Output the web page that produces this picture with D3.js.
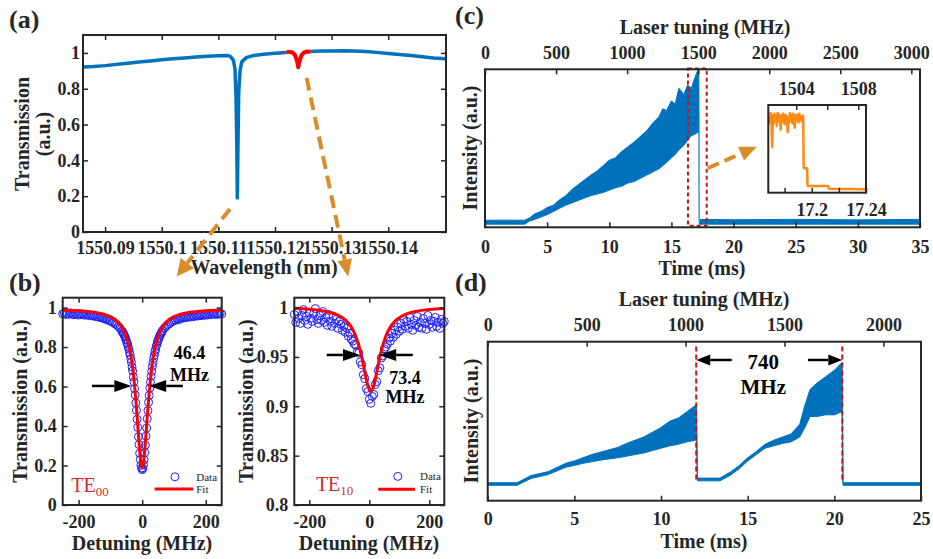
<!DOCTYPE html>
<html>
<head>
<meta charset="utf-8">
<script src="https://cdn.jsdelivr.net/npm/d3@7"></script>
<style>
  body { margin: 0; background: #fff; }
</style>
</head>
<body>
<script>
var width = 933, height = 559;
var ink = "#262626", matBlue = "#0072bd", fitRed = "#ff0000", arrowOrange = "#d98c2b";
var serif = '"Liberation Serif", "Times New Roman", serif';

// (a) wide scan, split where the red TE10 dip is drawn
var aWave1 = [1550.0861, 1550.088, 1550.090, 1550.092, 1550.094, 1550.096, 1550.098, 1550.100, 1550.102, 1550.104, 1550.106, 1550.108, 1550.110, 1550.1115,
  1550.11206, 1550.11265, 1550.11295, 1550.11312, 1550.11325, 1550.11335, 1550.11347, 1550.1136, 1550.11383, 1550.11413, 1550.11501, 1550.11617, 1550.118, 1550.120, 1550.1220];
var aTrans1 = [0.921, 0.924, 0.929, 0.936, 0.942, 0.949, 0.955, 0.962, 0.967, 0.972, 0.977, 0.981, 0.984, 0.985,
  0.982, 0.96, 0.91, 0.75, 0.5, 0.19, 0.5, 0.78, 0.9, 0.95, 0.975, 0.985, 0.992, 0.998, 1.002];
var aWaveRed = [1550.1220, 1550.1226, 1550.1231, 1550.1235, 1550.1238, 1550.1240, 1550.1241, 1550.1242, 1550.1244, 1550.1247, 1550.1251, 1550.1256, 1550.1263];
var aTransRed = [1.003, 1.006, 1.002, 0.99, 0.965, 0.94, 0.92, 0.935, 0.962, 0.988, 1.002, 1.008, 1.007];
var aWave2 = [1550.1263, 1550.128, 1550.130, 1550.132, 1550.134, 1550.136, 1550.138, 1550.140, 1550.142, 1550.144, 1550.146, 1550.148, 1550.1502];
var aTrans2 = [1.008, 1.010, 1.011, 1.012, 1.010, 1.008, 1.003, 0.997, 0.991, 0.985, 0.978, 0.972, 0.968];
var aXTicks = [1550.09, 1550.10, 1550.11, 1550.12, 1550.13, 1550.14];
var aYTicks = [0, 0.2, 0.4, 0.6, 0.8, 1];

// (b) TE00 resonance
var b1Detune = d3.range(-250, -69, 5).concat(d3.range(-64, 65, 2), d3.range(70, 251, 5));
var b1Trans = [0.968, 0.972, 0.965, 0.970, 0.966, 0.973, 0.967, 0.964, 0.970, 0.966, 0.962, 0.969, 0.965, 0.967, 0.961, 0.966, 0.963, 0.958, 0.962, 0.957,
  0.960, 0.954, 0.955, 0.950, 0.952, 0.946, 0.946, 0.940, 0.941, 0.934, 0.933, 0.927, 0.924, 0.917, 0.912, 0.904, 0.896,
  0.880, 0.879, 0.869, 0.866, 0.857, 0.852, 0.841, 0.835, 0.822, 0.815, 0.800, 0.790, 0.773, 0.760, 0.740, 0.723, 0.699, 0.679, 0.649, 0.624, 0.589, 0.557, 0.517, 0.480, 0.434, 0.393, 0.346, 0.306, 0.262, 0.231, 0.201, 0.187,
  0.179,
  0.185, 0.204, 0.229, 0.265, 0.303, 0.349, 0.390, 0.437, 0.478, 0.520, 0.555, 0.592, 0.622, 0.652, 0.677, 0.702, 0.721, 0.743, 0.758, 0.776, 0.788, 0.803, 0.813, 0.826, 0.833, 0.844, 0.850, 0.860, 0.864, 0.873, 0.876, 0.884,
  0.897, 0.905, 0.913, 0.918, 0.925, 0.929, 0.934, 0.936, 0.942, 0.939, 0.947, 0.945, 0.950, 0.949, 0.953, 0.951, 0.956, 0.952, 0.958, 0.955,
  0.960, 0.957, 0.962, 0.959, 0.964, 0.961, 0.966, 0.962, 0.968, 0.964, 0.967, 0.970, 0.965, 0.969, 0.966, 0.971, 0.968];
var b1FitX = [-250, -200, -150, -120, -100, -80, -70, -60, -50, -40, -35, -30, -25, -20, -15, -10, -5, -2.5, 0, 2.5, 5, 10, 15, 20, 25, 30, 35, 40, 50, 60, 70, 80, 100, 120, 150, 200, 250];
var b1FitT = [0.988, 0.984, 0.976, 0.966, 0.954, 0.933, 0.915, 0.890, 0.852, 0.792, 0.749, 0.694, 0.622, 0.533, 0.427, 0.316, 0.225, 0.199, 0.190, 0.199, 0.225, 0.316, 0.427, 0.533, 0.622, 0.694, 0.749, 0.792, 0.852, 0.890, 0.915, 0.933, 0.954, 0.966, 0.976, 0.984, 0.988];
var b1YTicks = [0, 0.2, 0.4, 0.6, 0.8, 1];

// (b) TE10 resonance
var b2Detune = d3.range(-250, 251, 5);
var b2Trans = [0.993, 0.985, 0.996, 0.989, 0.984, 0.992, 0.998, 0.987, 0.991, 0.983, 0.995, 0.989, 0.986, 0.994, 0.999, 0.988, 0.984, 0.992, 0.987, 0.996, 0.985,
  0.990, 0.982, 0.993, 0.986, 0.981, 0.991, 0.984, 0.988, 0.979, 0.986,
  0.983, 0.977, 0.981, 0.975, 0.979, 0.971, 0.974, 0.968, 0.966, 0.963,
  0.962, 0.955, 0.954, 0.945, 0.942, 0.932, 0.928, 0.918, 0.915, 0.907,
  0.903,
  0.910, 0.912, 0.922, 0.925, 0.936, 0.939, 0.949, 0.951, 0.958, 0.960,
  0.963, 0.969, 0.966, 0.974, 0.970, 0.977, 0.973, 0.980, 0.976,
  0.984, 0.978, 0.988, 0.981, 0.986, 0.979, 0.990, 0.983, 0.977, 0.987, 0.982, 0.991, 0.980, 0.985, 0.979, 0.989, 0.984, 0.978, 0.992, 0.983, 0.987, 0.980, 0.986, 0.990, 0.981, 0.985, 0.979, 0.988, 0.984, 0.986];
var b2FitX = [-250, -200, -150, -100, -80, -60, -45, -35, -25, -15, -5, 5, 15, 25, 35, 45, 55, 70, 90, 110, 150, 200, 250];
var b2FitT = [0.9993, 0.9983, 0.9964, 0.9916, 0.9875, 0.9802, 0.971, 0.9617, 0.9495, 0.9347, 0.921, 0.915, 0.921, 0.9347, 0.9495, 0.9617, 0.971, 0.9802, 0.9875, 0.9916, 0.9958, 0.9981, 0.9991];
var b2YTicks = [0.8, 0.85, 0.9, 0.95, 1];
var bXTicks = [-200, 0, 200];

// (c) soliton step trace (band = low/high envelope of the fast oscillation)
var cTime = [0, 3.2, 3.6, 4.0, 4.5, 5.0, 5.5, 6.0, 6.5, 7.0, 7.5, 8.0, 8.5, 9.0, 9.5, 10.0, 10.5, 11.0, 11.5, 12.0, 12.5, 13.0, 13.5, 14.0, 14.3, 14.6, 15.0, 15.3, 15.6, 16.0, 16.3, 16.6, 16.9, 17.1, 17.2, 17.25, 20, 25, 30, 35];
var cLow = [0.02, 0.02, 0.04, 0.05, 0.065, 0.08, 0.10, 0.12, 0.14, 0.155, 0.17, 0.185, 0.20, 0.21, 0.22, 0.235, 0.25, 0.26, 0.28, 0.29, 0.31, 0.33, 0.35, 0.37, 0.39, 0.41, 0.44, 0.46, 0.49, 0.52, 0.55, 0.58, 0.59, 0.60, 0.60, 0.02, 0.02, 0.02, 0.02, 0.02];
var cHigh = [0.045, 0.045, 0.06, 0.085, 0.10, 0.125, 0.14, 0.175, 0.20, 0.24, 0.27, 0.30, 0.33, 0.355, 0.39, 0.425, 0.44, 0.48, 0.51, 0.54, 0.575, 0.61, 0.66, 0.70, 0.75, 0.74, 0.80, 0.78, 0.88, 0.84, 0.90, 0.88, 0.95, 0.99, 1.0, 0.05, 0.048, 0.05, 0.047, 0.05];
var cTimeTicks = [0, 5, 10, 15, 20, 25, 30, 35];
var cTuneTicks = [0, 500, 1000, 1500, 2000, 2500, 3000];

// (c) inset: zoom on the step
var insetTune = d3.range(1502.25, 1504.46, 0.05).concat([1504.48, 1504.5, 1504.7, 1504.73, 1504.76, 1506.05, 1506.1, 1508.45]);
var insetInt = [0.86, 0.80, 0.91, 0.84, 0.52, 0.88, 0.79, 0.90, 0.83, 0.87, 0.76, 0.91, 0.82, 0.89, 0.85, 0.72, 0.88, 0.81, 0.90, 0.84,
  0.78, 0.89, 0.83, 0.87, 0.69, 0.86, 0.80, 0.91, 0.84, 0.88, 0.79, 0.90, 0.85, 0.74, 0.88, 0.82, 0.89, 0.86, 0.80, 0.90, 0.84, 0.87, 0.81, 0.88, 0.86,
  0.30, 0.28, 0.28, 0.09, 0.075, 0.075, 0.045, 0.04];
var insetTopTicks = [1504, 1506, 1508];
var insetBotTicks = [17.18, 17.2, 17.22, 17.24];

// (d) two-step trace
var dTime = [0, 1.7, 2.5, 3.5, 4.5, 5.0, 5.5, 6.0, 6.5, 7.0, 7.5, 8.0, 8.5, 9.0, 9.5, 10.0, 10.5, 11.0, 11.5, 12.0, 12.05, 12.1, 13.4, 14.0, 14.5, 15.0, 15.5, 16.0, 16.5, 17.0, 17.5, 18.0, 18.3, 18.6, 19.0, 19.5, 20.0, 20.45, 20.5, 25];
var dLow = [0.097, 0.097, 0.14, 0.165, 0.21, 0.222, 0.235, 0.245, 0.255, 0.263, 0.27, 0.28, 0.29, 0.30, 0.315, 0.33, 0.345, 0.355, 0.37, 0.38, 0.38, 0.125, 0.125, 0.16, 0.20, 0.25, 0.29, 0.33, 0.345, 0.36, 0.37, 0.40, 0.46, 0.53, 0.53, 0.54, 0.54, 0.56, 0.097, 0.097];
var dHigh = [0.113, 0.113, 0.158, 0.183, 0.235, 0.25, 0.27, 0.29, 0.305, 0.32, 0.335, 0.36, 0.38, 0.40, 0.43, 0.46, 0.50, 0.52, 0.56, 0.60, 0.60, 0.142, 0.142, 0.18, 0.22, 0.27, 0.31, 0.355, 0.38, 0.40, 0.42, 0.48, 0.60, 0.70, 0.74, 0.78, 0.82, 0.87, 0.113, 0.113];
var dSteps = [12.03, 20.46];
var dTimeTicks = [0, 5, 10, 15, 20, 25];
var dTuneTicks = [0, 500, 1000, 1500, 2000];

var svg = d3.select("body").append("svg")
    .attr("width", width)
    .attr("height", height);

function frame(xs, ys) {
  var x0 = xs.range()[0], x1 = xs.range()[1], y0 = ys.range()[1], y1 = ys.range()[0];
  svg.append("rect").attr("x", x0).attr("y", y0).attr("width", x1 - x0).attr("height", y1 - y0)
    .attr("fill", "none").attr("stroke", ink).attr("stroke-width", 2);
}
function ticks(gen, tx, ty, pad, fmt) {
  var g = svg.append("g").attr("transform", "translate(" + tx + "," + ty + ")")
    .call(gen.tickSizeInner(-5).tickSizeOuter(0).tickPadding(pad).tickFormat(fmt));
  g.select(".domain").remove();
  g.selectAll(".tick line").attr("stroke", ink).attr("stroke-width", 1.5);
  g.selectAll(".tick text").attr("fill", ink).style("font-family", serif).style("font-size", "18px").style("font-weight", "bold");
  return g;
}
var blank = function() { return ""; };
var num = function(d) { return String(+d.toFixed(2)); };

function label(x, y, s, o) {
  o = o || {};
  var t = svg.append("text").attr("x", x).attr("y", y)
    .attr("text-anchor", o.anchor || "middle")
    .attr("fill", o.fill || ink)
    .style("font-family", serif)
    .style("font-size", (o.size || 20) + "px")
    .style("font-weight", o.weight || "bold");
  if (o.rotate) t.attr("transform", "rotate(-90," + x + "," + y + ")");
  t.text(s);
  return t;
}
function arrow(p0, p1, o) {
  var dx = p1[0] - p0[0], dy = p1[1] - p0[1], L = Math.hypot(dx, dy), ux = dx / L, uy = dy / L;
  var bx = p1[0] - ux * o.head, by = p1[1] - uy * o.head;
  svg.append("line").attr("x1", p0[0]).attr("y1", p0[1]).attr("x2", bx).attr("y2", by)
    .attr("stroke", o.color).attr("stroke-width", o.width).attr("stroke-dasharray", o.dash || null);
  svg.append("path")
    .attr("d", "M" + p1[0] + "," + p1[1] + "L" + (bx - uy * o.hw / 2) + "," + (by + ux * o.hw / 2) + "L" + (bx + uy * o.hw / 2) + "," + (by - ux * o.hw / 2) + "Z")
    .attr("fill", o.color);
}
function lineOf(xs, ys, X, Y, curve) {
  return d3.line().curve(curve || d3.curveLinear).x(function(d, i) { return xs(X[i]); }).y(function(d, i) { return ys(Y[i]); })(X);
}
function bandOf(xs, ys, X, lo, hi) {
  return d3.area().x(function(d, i) { return xs(X[i]); }).y0(function(d, i) { return ys(lo[i]); }).y1(function(d, i) { return ys(hi[i]); })(X);
}

// ---------------- (a)
var ax = d3.scaleLinear().domain([1550.0861, 1550.1502]).range([83, 446]);
var ay = d3.scaleLinear().domain([0, 1.1]).range([232, 35]);
svg.append("path").attr("d", lineOf(ax, ay, aWave1, aTrans1)).attr("fill", "none").attr("stroke", matBlue).attr("stroke-width", 3.5).attr("stroke-linejoin", "round");
svg.append("path").attr("d", lineOf(ax, ay, aWave2, aTrans2)).attr("fill", "none").attr("stroke", matBlue).attr("stroke-width", 3.5).attr("stroke-linejoin", "round");
svg.append("path").attr("d", lineOf(ax, ay, aWaveRed, aTransRed)).attr("fill", "none").attr("stroke", fitRed).attr("stroke-width", 4).attr("stroke-linejoin", "round");
frame(ax, ay);
ticks(d3.axisBottom(ax).tickValues(aXTicks), 0, 232, 9.5, num);
ticks(d3.axisTop(ax).tickValues(aXTicks), 0, 35, 0, blank);
ticks(d3.axisLeft(ay).tickValues(aYTicks), 83, 0, 3, num);
ticks(d3.axisRight(ay).tickValues(aYTicks), 446, 0, 0, blank);
label(264, 274, "Wavelength (nm)");
label(29, 134, "Transmission", { rotate: true });
label(50, 134, "(a.u.)", { rotate: true });
label(9, 28, "(a)", { anchor: "start", size: 26 });

// ---------------- (b) left
var bx1 = d3.scaleLinear().domain([-250, 250]).range([62.7, 221.7]);
var by1 = d3.scaleLinear().domain([0, 1.05]).range([505, 297.7]);
svg.append("g").selectAll("circle").data(b1Detune).join("circle")
  .attr("cx", function(d) { return bx1(d); })
  .attr("cy", function(d, i) { return by1(b1Trans[i]); })
  .attr("r", 4).attr("fill", "none").attr("stroke", "#2020ff").attr("stroke-width", 1);
svg.append("path").attr("d", lineOf(bx1, by1, b1FitX, b1FitT, d3.curveMonotoneX)).attr("fill", "none").attr("stroke", fitRed).attr("stroke-width", 3);
frame(bx1, by1);
ticks(d3.axisBottom(bx1).tickValues(bXTicks), 0, 505, 10, num);
ticks(d3.axisTop(bx1).tickValues(bXTicks), 0, 297.7, 0, blank);
ticks(d3.axisLeft(by1).tickValues(b1YTicks), 62.7, 0, 6, num);
ticks(d3.axisRight(by1).tickValues(b1YTicks), 221.7, 0, 0, blank);
label(142, 550, "Detuning (MHz)");
label(27, 401, "Transmission (a.u.)", { rotate: true });
label(9, 291, "(b)", { anchor: "start", size: 26 });
arrow([bx1(-158), by1(0.603)], [bx1(-34), by1(0.603)], { color: "#000", width: 2.5, head: 17, hw: 12 });
arrow([bx1(128), by1(0.603)], [bx1(22), by1(0.603)], { color: "#000", width: 2.5, head: 17, hw: 12 });
label(bx1(149), by1(0.77) + 6, "46.4", { size: 18, fill: "#000" });
label(bx1(149), by1(0.659) + 6, "MHz", { size: 18, fill: "#000" });
var te1 = label(bx1(-223), 491.5, "TE", { anchor: "start", size: 20, weight: "normal", fill: "#d42a2a" });
te1.append("tspan").attr("dy", 4).style("font-size", "13px").text("00");
svg.append("circle").attr("cx", bx1(103)).attr("cy", by1(0.143)).attr("r", 4).attr("fill", "none").attr("stroke", "#2020ff");
label(bx1(170), by1(0.143) + 4, "Data", { anchor: "start", size: 11, weight: "normal" });
svg.append("line").attr("x1", bx1(39)).attr("x2", bx1(160)).attr("y1", by1(0.081)).attr("y2", by1(0.081)).attr("stroke", fitRed).attr("stroke-width", 3);
label(bx1(170), by1(0.081) + 4, "Fit", { anchor: "start", size: 11, weight: "normal" });

// ---------------- (b) right
var bx2 = d3.scaleLinear().domain([-250, 250]).range([294.3, 444.3]);
var by2 = d3.scaleLinear().domain([0.8, 1.01]).range([505, 297.7]);
svg.append("g").selectAll("circle").data(b2Detune).join("circle")
  .attr("cx", function(d) { return bx2(d); })
  .attr("cy", function(d, i) { return by2(b2Trans[i]); })
  .attr("r", 4).attr("fill", "none").attr("stroke", "#2020ff").attr("stroke-width", 1);
svg.append("path").attr("d", lineOf(bx2, by2, b2FitX, b2FitT, d3.curveMonotoneX)).attr("fill", "none").attr("stroke", fitRed).attr("stroke-width", 3);
frame(bx2, by2);
ticks(d3.axisBottom(bx2).tickValues(bXTicks), 0, 505, 10, num);
ticks(d3.axisTop(bx2).tickValues(bXTicks), 0, 297.7, 0, blank);
ticks(d3.axisLeft(by2).tickValues(b2YTicks), 294.3, 0, 6, num);
ticks(d3.axisRight(by2).tickValues(b2YTicks), 444.3, 0, 0, blank);
label(369, 550, "Detuning (MHz)");
label(253, 401, "Transmission (a.u.)", { rotate: true });
arrow([bx2(-142), by2(0.952)], [bx2(-31), by2(0.952)], { color: "#000", width: 2.5, head: 17, hw: 12 });
arrow([bx2(145), by2(0.952)], [bx2(33), by2(0.952)], { color: "#000", width: 2.5, head: 17, hw: 12 });
label(bx2(119), by2(0.929) + 6, "73.4", { size: 18, fill: "#000" });
label(bx2(119), by2(0.909) + 6, "MHz", { size: 18, fill: "#000" });
var te2 = label(bx2(-178), 491, "TE", { anchor: "start", size: 20, weight: "normal", fill: "#d42a2a" });
te2.append("tspan").attr("dy", 4).style("font-size", "13px").text("10");
svg.append("circle").attr("cx", bx2(95)).attr("cy", by2(0.829)).attr("r", 4).attr("fill", "none").attr("stroke", "#2020ff");
label(bx2(169), by2(0.829) + 4, "Data", { anchor: "start", size: 11, weight: "normal" });
svg.append("line").attr("x1", bx2(30)).attr("x2", bx2(152)).attr("y1", by2(0.816)).attr("y2", by2(0.816)).attr("stroke", fitRed).attr("stroke-width", 3);
label(bx2(169), by2(0.816) + 4, "Fit", { anchor: "start", size: 11, weight: "normal" });

// arrows from (a) down to the zooms in (b)
arrow([ax(1550.11206), ay(0.129)], [ax(1550.10266), ay(-0.248)], { color: arrowOrange, width: 4, dash: "13,7", head: 17, hw: 17 });
arrow([ax(1550.12559), ay(0.861)], [ax(1550.13293), ay(-0.248)], { color: arrowOrange, width: 4, dash: "13,7", head: 17, hw: 15 });

// ---------------- (c)
var cx = d3.scaleLinear().domain([0, 35]).range([485, 920]);
var cxTune = d3.scaleLinear().domain([0, 3061]).range([485, 920]);
var cy = d3.scaleLinear().domain([0, 1]).range([227.3, 69.3]);
svg.append("path").attr("d", bandOf(cx, cy, cTime, cLow, cHigh)).attr("fill", matBlue).attr("stroke", matBlue).attr("stroke-width", 1);
svg.append("line").attr("x1", cx(17.22)).attr("x2", cx(17.22)).attr("y1", cy(0.6)).attr("y2", cy(0.04)).attr("stroke", "#7ab4e2").attr("stroke-width", 1.5);
svg.append("rect").attr("x", cx(16.33)).attr("y", cy(1.005)).attr("width", cx(17.84) - cx(16.33)).attr("height", cy(0.01) - cy(1.005))
  .attr("fill", "none").attr("stroke", "#cc1111").attr("stroke-width", 2).attr("stroke-dasharray", "4,3");
frame(cx, cy);
ticks(d3.axisBottom(cx).tickValues(cTimeTicks), 0, 227.3, 12.5, num);
ticks(d3.axisTop(cxTune).tickValues(cTuneTicks), 0, 69.3, 10, num);
label(702, 275, "Time (ms)");
label(705, 34, "Laser tuning (MHz)");
label(477, 148, "Intensity (a.u.)", { rotate: true });
label(455, 24, "(c)", { anchor: "start", size: 26 });
arrow([cx(17.94), cy(0.375)], [cx(21.86), cy(0.51)], { color: arrowOrange, width: 4, dash: "12,6", head: 17, hw: 15 });

// inset
var ix = d3.scaleLinear().domain([1502.2, 1508.5]).range([768.3, 866]);
var ixTime = d3.scaleLinear().domain([17.168, 17.24]).range([768.3, 866]);
var iy = d3.scaleLinear().domain([0, 1]).range([192.7, 105]);
svg.append("rect").attr("x", 768.3).attr("y", 105).attr("width", 866 - 768.3).attr("height", 192.7 - 105).attr("fill", "#fff");
svg.append("path").attr("d", lineOf(ix, iy, insetTune, insetInt)).attr("fill", "none").attr("stroke", "#ff8a12").attr("stroke-width", 2.5).attr("stroke-linejoin", "round");
frame(ix, iy);
ticks(d3.axisTop(ix).tickValues(insetTopTicks), 0, 105, 10, function(d) { return d === 1506 ? "" : num(d); });
ticks(d3.axisBottom(ixTime).tickValues(insetBotTicks), 0, 192.7, 11, function(d) { return (d === 17.2 || d === 17.24) ? num(d) : ""; });

// ---------------- (d)
var dx = d3.scaleLinear().domain([0, 25]).range([487.7, 921]);
var dxTune = d3.scaleLinear().domain([0, 2190]).range([487.7, 921]);
var dy = d3.scaleLinear().domain([0, 1]).range([500.7, 341.7]);
svg.append("path").attr("d", bandOf(dx, dy, dTime, dLow, dHigh)).attr("fill", matBlue).attr("stroke", matBlue).attr("stroke-width", 1);
svg.append("g").selectAll("line").data(dSteps).join("line")
  .attr("x1", function(d) { return dx(d); }).attr("x2", function(d) { return dx(d); })
  .attr("y1", dy(0.97)).attr("y2", dy(0.12))
  .attr("stroke", "#cc1111").attr("stroke-width", 2).attr("stroke-dasharray", "5,3");
frame(dx, dy);
ticks(d3.axisBottom(dx).tickValues(dTimeTicks), 0, 500.7, 12, num);
ticks(d3.axisTop(dxTune).tickValues(dTuneTicks), 0, 341.7, 10.5, num);
label(704, 548, "Time (ms)");
label(704, 306, "Laser tuning (MHz)");
label(478, 421, "Intensity (a.u.)", { rotate: true });
label(455, 291, "(d)", { anchor: "start", size: 26 });
arrow([dx(14.08), dy(0.885)], [dx(12.03), dy(0.885)], { color: "#000", width: 2.5, head: 14, hw: 11 });
arrow([dx(18.48), dy(0.885)], [dx(20.46), dy(0.885)], { color: "#000", width: 2.5, head: 14, hw: 11 });
label(dx(15.9), dy(0.874) + 7, "740", { size: 21, fill: "#000" });
label(dx(15.9), dy(0.717) + 7, "MHz", { size: 21, fill: "#000" });
</script>
</body>
</html>
